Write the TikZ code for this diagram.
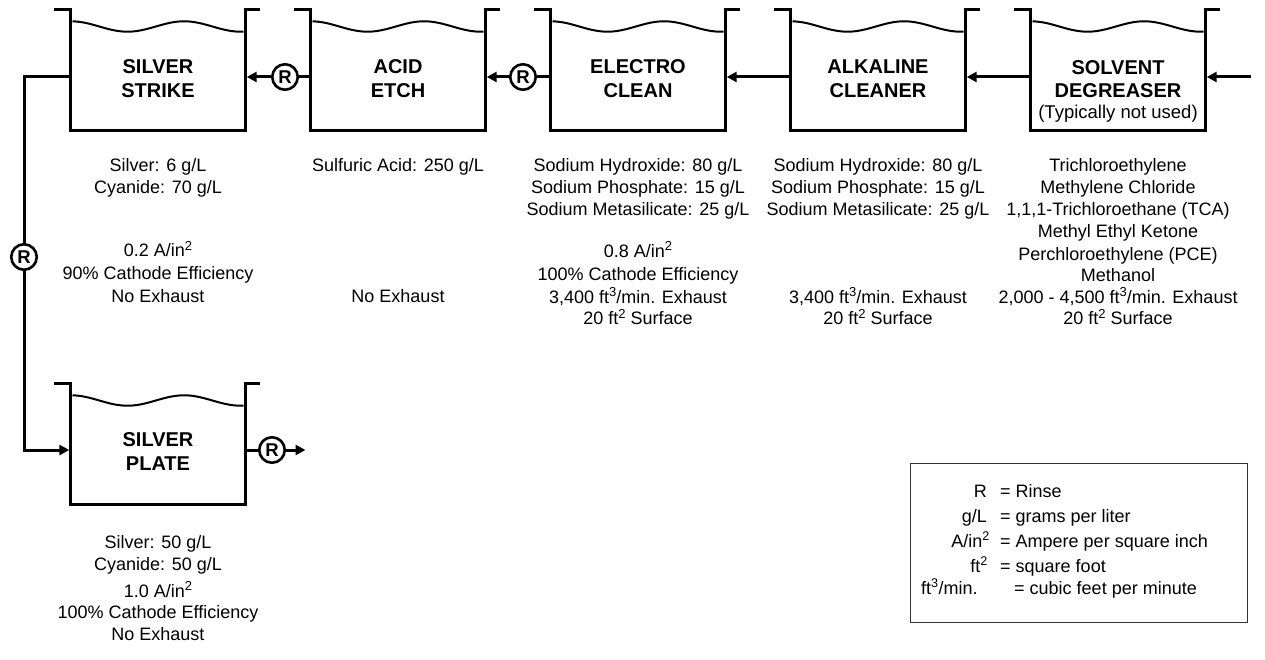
\documentclass[tikz,border=0pt]{standalone}
\usepackage{fontspec}
\setmainfont{Liberation Sans}
\usetikzlibrary{arrows.meta}
\newcommand\bigsup[1]{\raisebox{6.5pt}{\fontsize{13}{13}\selectfont #1}}
\tikzset{
  tankbox/.style={draw=none, minimum width=174pt, minimum height=120pt, inner sep=0pt},
  tankline/.style={line width=3pt, line join=miter},
  wave/.style={line width=2pt},
  title/.style={font=\fontsize{20}{22}\selectfont\bfseries, anchor=base, inner sep=0pt},
  txt/.style={font=\fontsize{18}{20}\selectfont, anchor=base, inner sep=0pt},
  legl/.style={font=\fontsize{18}{20}\selectfont, anchor=base east, inner sep=0pt},
  legr/.style={font=\fontsize{18}{20}\selectfont, anchor=base west, inner sep=0pt},
  pipe/.style={line width=3pt},
  flow/.style={line width=3pt, -{Triangle[length=10pt,width=10pt]}, shorten >=1.5pt},
  rinse/.style={circle, draw, line width=2.6pt, minimum size=25.5pt, inner sep=0pt, font=\fontsize{18.5}{18.5}\selectfont\bfseries},
}
\begin{document}
\begin{tikzpicture}[x=1pt, y=-1pt]
\useasboundingbox (0,0) rectangle (1265,660);

% tanks
\node[tankbox] (strike) at (158,70) {};
\node[tankbox] (acid)   at (398,70) {};
\node[tankbox] (elec)   at (638,70) {};
\node[tankbox] (alk)    at (878,70) {};
\node[tankbox] (solv)   at (1118,70) {};
\node[tankbox] (plate)  at (158,444) {};

\foreach \n/\l/\t in {strike/71/10, acid/311/10, elec/551/10, alk/791/10, solv/1031/10, plate/71/384}{
  \draw[tankline] ([xshift=-17pt]\n.north west) -- (\n.north west) -- (\n.south west)
     -- (\n.south east) -- (\n.north east) -- ([xshift=15pt]\n.north east);
  \draw[wave] plot[domain=1.5:172.5, samples=60, smooth]
     ({\l+\x}, {\t+16.5-5.2*cos(3.183*\x)});
}

% titles
\node[title] (t1a) at (158,74) {SILVER};
\node[title] (t1b) at (158,98) {STRIKE};
\node[title] (t2a) at (398,74) {ACID};
\node[title] (t2b) at (398,98) {ETCH};
\node[title] (t3a) at (638,74) {ELECTRO};
\node[title] (t3b) at (638,98) {CLEAN};
\node[title] (t4a) at (878,74) {ALKALINE};
\node[title] (t4b) at (878,98) {CLEANER};
\node[title] (t5a) at (1118,75) {SOLVENT};
\node[title] (t5b) at (1118,98) {DEGREASER};
\node[txt, font=\fontsize{18.5}{20}\selectfont] (t5c) at (1118,118.5) {(Typically not used)};
\node[title] (t6a) at (158,446) {SILVER};
\node[title] (t6b) at (158,470) {PLATE};

% rinse circles
\node[rinse] (r1) at (285,77) {R};
\node[rinse] (r2) at (523,77) {R};
\node[rinse] (r3) at (24,257) {R};
\node[rinse] (r4) at (272,450) {R};
\coordinate (in)  at (1251,77);
\coordinate (out) at (307,450);

% connectors
\draw[flow] (in) -- ([yshift=-7pt]solv.east);
\draw[flow] ([yshift=-7pt]solv.west) -- ([yshift=-7pt]alk.east);
\draw[flow] ([yshift=-7pt]alk.west) -- ([yshift=-7pt]elec.east);
\draw[pipe] ([yshift=-7pt]elec.west) -- (r2.east);
\draw[flow] (r2.west) -- ([yshift=-7pt]acid.east);
\draw[pipe] ([yshift=-7pt]acid.west) -- (r1.east);
\draw[flow] (r1.west) -- ([yshift=-7pt]strike.east);
\draw[pipe] ([yshift=-7pt]strike.west) -| (r3.north);
\draw[flow] (r3.south) |- ([yshift=-6pt]plate.west);
\draw[pipe] ([yshift=-6pt]plate.east) -- (r4.west);
\draw[flow] (r4.east) -- (out);

% silver strike text
\node[txt] (s1) at (158,172) {Silver: 6 g/L};
\node[txt] (s2) at (158,193.5) {Cyanide: 70 g/L};
\node[txt] (s3) at (158,257) {0.2 A/in\bigsup{2}};
\node[txt] (s4) at (158,279.5) {90\% Cathode Efficiency};
\node[txt] (s5) at (158,302) {No Exhaust};

% acid etch text
\node[txt] (a1) at (398,172) {Sulfuric Acid: 250 g/L};
\node[txt] (a2) at (398,302) {No Exhaust};

% electro clean text
\node[txt] (e1) at (638,172) {Sodium Hydroxide: 80 g/L};
\node[txt] (e2) at (638,194) {Sodium Phosphate: 15 g/L};
\node[txt] (e3) at (638,216) {Sodium Metasilicate: 25 g/L};
\node[txt] (e4) at (638,257.5) {0.8 A/in\bigsup{2}};
\node[txt] (e5) at (638,280) {100\% Cathode Efficiency};
\node[txt] (e6) at (638,303) {3,400 ft\bigsup{3}/min. Exhaust};
\node[txt] (e7) at (638,324.5) {20 ft\bigsup{2} Surface};

% alkaline cleaner text
\node[txt] (k1) at (878,172) {Sodium Hydroxide: 80 g/L};
\node[txt] (k2) at (878,194) {Sodium Phosphate: 15 g/L};
\node[txt] (k3) at (878,216) {Sodium Metasilicate: 25 g/L};
\node[txt] (k4) at (878,303) {3,400 ft\bigsup{3}/min. Exhaust};
\node[txt] (k5) at (878,324.5) {20 ft\bigsup{2} Surface};

% solvent degreaser text
\node[txt] (v1) at (1118,172) {Trichloroethylene};
\node[txt] (v2) at (1118,194) {Methylene Chloride};
\node[txt] (v3) at (1118,216) {1,1,1-Trichloroethane (TCA)};
\node[txt] (v4) at (1118,238) {Methyl Ethyl Ketone};
\node[txt] (v5) at (1118,260) {Perchloroethylene (PCE)};
\node[txt] (v6) at (1118,281) {Methanol};
\node[txt] (v7) at (1118,303) {2,000 - 4,500 ft\bigsup{3}/min. Exhaust};
\node[txt] (v8) at (1118,324.5) {20 ft\bigsup{2} Surface};

% silver plate text
\node[txt] (p1) at (158,548) {Silver: 50 g/L};
\node[txt] (p2) at (158,570.5) {Cyanide: 50 g/L};
\node[txt] (p3) at (158,597) {1.0 A/in\bigsup{2}};
\node[txt] (p4) at (158,618.5) {100\% Cathode Efficiency};
\node[txt] (p5) at (158,640) {No Exhaust};

% legend
\node[draw=black!80, line width=1pt, minimum width=337pt, minimum height=159pt, inner sep=0pt] (legend) at (1078.5,542.5) {};
\node[legl] (l1a) at (987,497) {R};
\node[legr] (l1b) at (1000,497) {= Rinse};
\node[legl] (l2a) at (987,522) {g/L};
\node[legr] (l2b) at (1000,522) {= grams per liter};
\node[legl] (l3a) at (990,547) {A/in\textsuperscript{2}};
\node[legr] (l3b) at (1000,547) {= Ampere per square inch};
\node[legl] (l4a) at (988,572) {ft\textsuperscript{2}};
\node[legr] (l4b) at (1000,572) {= square foot};
\node[legr] (l5a) at (921,594) {ft\textsuperscript{3}/min.};
\node[legr] (l5b) at (1014,594) {= cubic feet per minute};
\end{tikzpicture}
\end{document}
